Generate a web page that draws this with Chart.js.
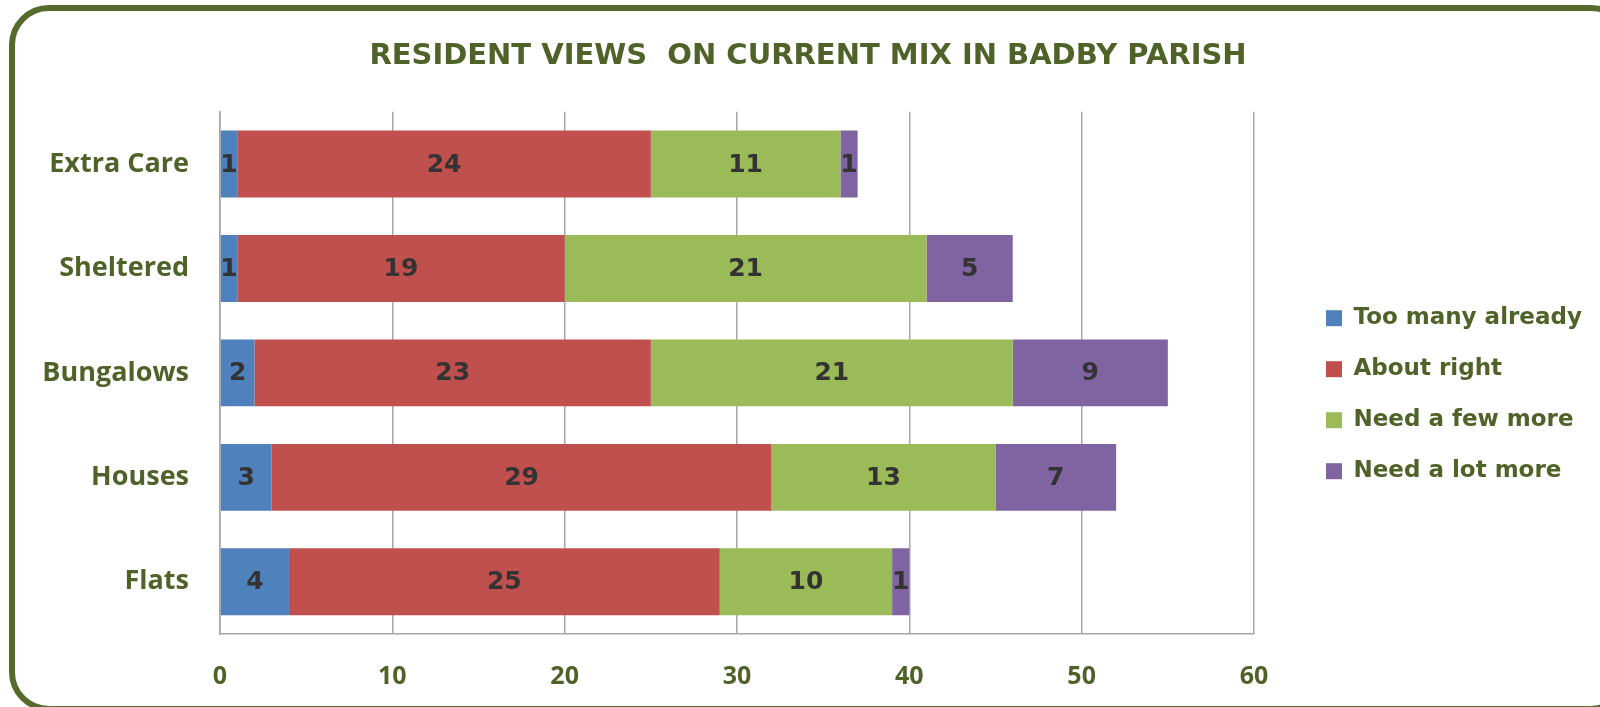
<!DOCTYPE html>
<html lang="en">
<head>
    <meta charset="UTF-8">
    <title>Resident views on current mix in Badby Parish</title>
    <style>
        body { margin: 0; background: #fff; overflow: hidden; }
        #wrap { position: absolute; left: 0; top: 0; width: 1600px; height: 707px; }
        #frame {
            position: absolute; left: 9px; top: 5px; width: 1610px; height: 695px;
            border: 6px solid #556b2c; border-radius: 40px; pointer-events: none;
        }
    </style>
</head>
<body>
    <div id="wrap">
        <canvas id="myChart" width="1600" height="707"></canvas>
    </div>
    <div id="frame"></div>
    <script src="https://cdn.jsdelivr.net/npm/chart.js"></script>
    <script>
        // data
        const housingTypes = ['Extra Care', 'Sheltered', 'Bungalows', 'Houses', 'Flats'];
        const tooMany = [1, 1, 2, 3, 4];
        const aboutRight = [24, 19, 23, 29, 25];
        const fewMore = [11, 21, 21, 13, 10];
        const lotMore = [1, 5, 9, 7, 1];
        const xTicks = [0, 10, 20, 30, 40, 50, 60];

        const green = '#4f6228';
        const gridGray = '#a6a6a6';
        const axisFont = "'Open Sans', sans-serif";
        const wideFont = "'DejaVu Sans', sans-serif";

        // draws the numbers in the middle of each bar piece
        const segmentLabels = {
            id: 'segmentLabels',
            afterDatasetsDraw(chart) {
                const ctx = chart.ctx;
                ctx.save();
                ctx.font = 'bold 25px ' + wideFont;
                ctx.fillStyle = '#333333';
                ctx.textAlign = 'center';
                ctx.textBaseline = 'middle';
                chart.data.datasets.forEach((ds, i) => {
                    const meta = chart.getDatasetMeta(i);
                    meta.data.forEach((bar, j) => {
                        const p = bar.getProps(['x', 'y', 'base'], true);
                        ctx.fillText(ds.data[j], (p.x + p.base) / 2, p.y + 1);
                    });
                });
                ctx.restore();
            }
        };

        const ctx = document.getElementById('myChart');

        new Chart(ctx, {
            type: 'bar',
            data: {
                labels: housingTypes,
                datasets: [
                    { label: 'Too many already', data: tooMany, backgroundColor: '#4f81bd' },
                    { label: 'About right', data: aboutRight, backgroundColor: '#c0504d' },
                    { label: 'Need a few more', data: fewMore, backgroundColor: '#9bbb59' },
                    { label: 'Need a lot more', data: lotMore, backgroundColor: '#8064a2' }
                ]
            },
            options: {
                indexAxis: 'y',
                responsive: false,
                animation: false,
                categoryPercentage: 0.8,
                barPercentage: 0.8,
                layout: { padding: { left: 34, right: 18, top: 0, bottom: 0 } },
                scales: {
                    y: {
                        stacked: true,
                        grid: { display: false, drawTicks: false },
                        border: { display: true, color: gridGray, width: 1.5 },
                        ticks: {
                            padding: 31,
                            color: green,
                            font: { family: axisFont, size: 27, weight: 'bold' }
                        },
                        afterFit(scale) { scale.width = 186; }
                    },
                    // empty space between the plot and the legend
                    gap: {
                        type: 'linear',
                        position: 'right',
                        display: false,
                        afterFit(scale) { scale.width = 44; }
                    },
                    x: {
                        stacked: true,
                        min: xTicks[0],
                        max: xTicks[xTicks.length - 1],
                        afterBuildTicks(scale) {
                            scale.ticks = xTicks.map(v => ({ value: v }));
                        },
                        grid: { color: gridGray, lineWidth: 1.5, drawTicks: false },
                        border: { display: true, color: gridGray, width: 1.5 },
                        ticks: {
                            padding: 28,
                            color: green,
                            font: { family: axisFont, size: 25, weight: 'bold' }
                        },
                        afterFit(scale) { scale.height = 73; }
                    }
                },
                plugins: {
                    title: {
                        display: true,
                        text: 'RESIDENT VIEWS  ON CURRENT MIX IN BADBY PARISH',
                        color: green,
                        font: { family: wideFont, size: 29, weight: 'bold' },
                        padding: { top: 39, bottom: 38 }
                    },
                    legend: {
                        position: 'right',
                        maxWidth: 284,
                        title: { display: true, text: '', padding: 34 },
                        labels: {
                            boxWidth: 16,
                            boxHeight: 16,
                            padding: 28,
                            color: green,
                            font: { family: wideFont, size: 23, weight: 'bold' }
                        }
                    },
                    tooltip: { enabled: false }
                }
            },
            plugins: [segmentLabels]
        });
    </script>
</body>
</html>
